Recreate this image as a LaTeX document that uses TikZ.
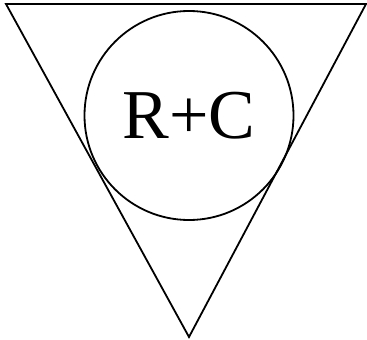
\documentclass[tikz,border=0pt]{standalone}
\usepackage{fontspec}
\setmainfont{Liberation Serif}
\usetikzlibrary{positioning}
\tikzset{
  outline/.style={draw=black,line width=1.8pt,line join=miter},
  rcring/.style={outline,circle,minimum size=209pt,inner sep=0pt,
    font=\fontsize{70}{70}\selectfont}
}

\begin{document}
\begin{tikzpicture}[x=1pt,y=-1pt]
    \useasboundingbox (0,0) rectangle (367,340);
    \coordinate (tl) at (6,4);
    \coordinate (tr) at (366,4);
    \coordinate (bot) at (189,337);
    \draw[outline] (tl)--(tr)--(bot)--cycle;
    \node[rcring] (rc) at (189,115.5) {R+C};
  \end{tikzpicture}
\end{document}
